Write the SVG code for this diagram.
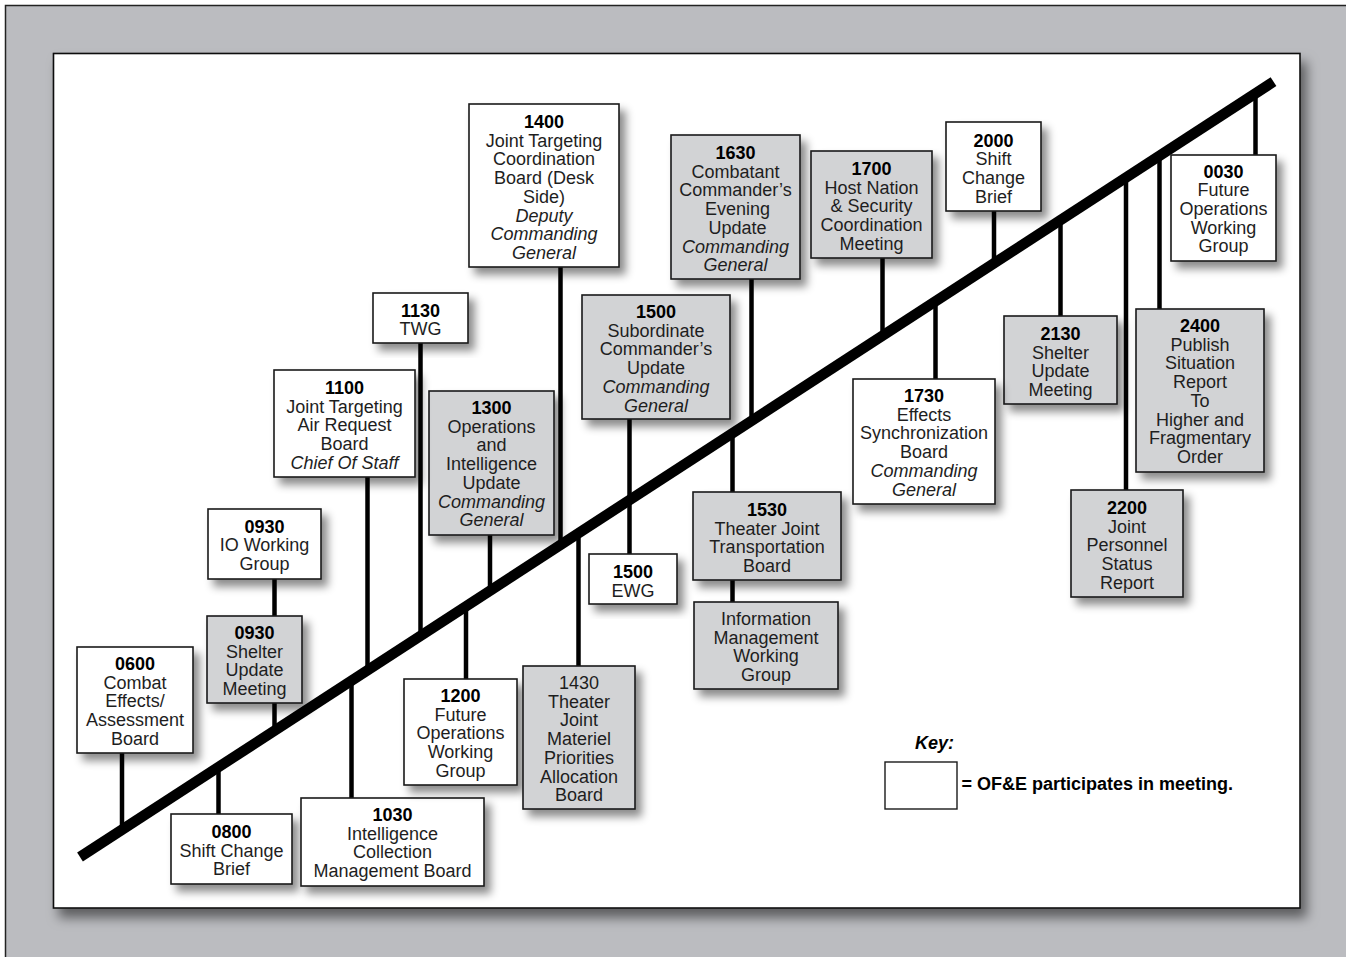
<svg xmlns="http://www.w3.org/2000/svg" width="1346" height="957" viewBox="0 0 1346 957">
<defs>
<filter id="sh" x="-20%" y="-20%" width="150%" height="150%"><feDropShadow dx="6" dy="7" stdDeviation="4" flood-color="#000" flood-opacity="0.45"/></filter>
<filter id="psh" x="-5%" y="-5%" width="112%" height="115%"><feDropShadow dx="6" dy="9" stdDeviation="6" flood-color="#000" flood-opacity="0.5"/></filter>
<style>
text{font-family:"Liberation Sans",Arial,Helvetica,sans-serif;font-size:18px;fill:#1e1e1e;text-anchor:middle}
.b{font-weight:bold;fill:#000}
.i{font-style:italic}
.w{fill:#fff;stroke:#1a1a1a;stroke-width:1.6;filter:url(#sh)}
.g{fill:#d2d3d5;stroke:#1a1a1a;stroke-width:1.6;filter:url(#sh)}
.c{stroke:#000;stroke-width:4.5;fill:none}
</style>
</defs>
<rect x="5.5" y="5.5" width="1400" height="1000" fill="#bbbcc0" stroke="#222" stroke-width="1.5"/>
<rect x="53.5" y="53.5" width="1246.5" height="854.5" fill="#fff" stroke="#111" stroke-width="1.6" filter="url(#psh)"/>
<g id="connectors">
<line class="c" x1="122" y1="753" x2="122" y2="830"/>
<line class="c" x1="274.5" y1="579" x2="274.5" y2="616"/>
<line class="c" x1="274.5" y1="703" x2="274.5" y2="731"/>
<line class="c" x1="218.5" y1="767" x2="218.5" y2="814"/>
<line class="c" x1="351.5" y1="680" x2="351.5" y2="798"/>
<line class="c" x1="367.5" y1="477" x2="367.5" y2="670"/>
<line class="c" x1="420.5" y1="343" x2="420.5" y2="636"/>
<line class="c" x1="490" y1="535" x2="490" y2="590"/>
<line class="c" x1="466" y1="606" x2="466" y2="679"/>
<line class="c" x1="560.5" y1="267" x2="560.5" y2="545"/>
<line class="c" x1="578.5" y1="533" x2="578.5" y2="666"/>
<line class="c" x1="629.5" y1="419" x2="629.5" y2="554"/>
<line class="c" x1="751.5" y1="279" x2="751.5" y2="421"/>
<line class="c" x1="732.5" y1="433" x2="732.5" y2="492"/>
<line class="c" x1="732.5" y1="580" x2="732.5" y2="602"/>
<line class="c" x1="882.5" y1="258" x2="882.5" y2="336"/>
<line class="c" x1="935.5" y1="301" x2="935.5" y2="379"/>
<line class="c" x1="994" y1="211" x2="994" y2="263"/>
<line class="c" x1="1060.5" y1="220" x2="1060.5" y2="316"/>
<line class="c" x1="1126" y1="177" x2="1126" y2="490"/>
<line class="c" x1="1159.5" y1="156" x2="1159.5" y2="309"/>
<line class="c" x1="1255.5" y1="93" x2="1255.5" y2="155"/>
<line x1="80" y1="857" x2="1273.5" y2="81.7" stroke="#000" stroke-width="10.5"/>
</g>
<g id="n0600"><rect class="w" x="77" y="647" width="116" height="106"/>
<text><tspan class="b" x="135" y="670">0600</tspan><tspan x="135" dy="18.7">Combat</tspan><tspan x="135" dy="18.7">Effects/</tspan><tspan x="135" dy="18.7">Assessment</tspan><tspan x="135" dy="18.7">Board</tspan></text></g>
<g id="n0930io"><rect class="w" x="208" y="509" width="113" height="70"/>
<text><tspan class="b" x="264.5" y="532.5">0930</tspan><tspan x="264.5" dy="18.7">IO Working</tspan><tspan x="264.5" dy="18.7">Group</tspan></text></g>
<g id="n0930sh"><rect class="g" x="207" y="616" width="95" height="87"/>
<text><tspan class="b" x="254.5" y="639">0930</tspan><tspan x="254.5" dy="18.7">Shelter</tspan><tspan x="254.5" dy="18.7">Update</tspan><tspan x="254.5" dy="18.7">Meeting</tspan></text></g>
<g id="n0800"><rect class="w" x="171" y="814" width="121" height="70"/>
<text><tspan class="b" x="231.5" y="838">0800</tspan><tspan x="231.5" dy="18.7">Shift Change</tspan><tspan x="231.5" dy="18.7">Brief</tspan></text></g>
<g id="n1030"><rect class="w" x="301" y="798" width="183" height="88"/>
<text><tspan class="b" x="392.5" y="821">1030</tspan><tspan x="392.5" dy="18.7">Intelligence</tspan><tspan x="392.5" dy="18.7">Collection</tspan><tspan x="392.5" dy="18.7">Management Board</tspan></text></g>
<g id="n1200"><rect class="w" x="404" y="679" width="113" height="106"/>
<text><tspan class="b" x="460.5" y="702">1200</tspan><tspan x="460.5" dy="18.7">Future</tspan><tspan x="460.5" dy="18.7">Operations</tspan><tspan x="460.5" dy="18.7">Working</tspan><tspan x="460.5" dy="18.7">Group</tspan></text></g>
<g id="n1430"><rect class="g" x="523" y="666" width="112" height="143"/>
<text><tspan x="579" y="689">1430</tspan><tspan x="579" dy="18.7">Theater</tspan><tspan x="579" dy="18.7">Joint</tspan><tspan x="579" dy="18.7">Materiel</tspan><tspan x="579" dy="18.7">Priorities</tspan><tspan x="579" dy="18.7">Allocation</tspan><tspan x="579" dy="18.7">Board</tspan></text></g>
<g id="n1500ewg"><rect class="w" x="589" y="554" width="88" height="50"/>
<text><tspan class="b" x="633" y="578">1500</tspan><tspan x="633" dy="18.7">EWG</tspan></text></g>
<g id="n1530"><rect class="g" x="693" y="492" width="148" height="88"/>
<text><tspan class="b" x="767" y="516">1530</tspan><tspan x="767" dy="18.7">Theater Joint</tspan><tspan x="767" dy="18.7">Transportation</tspan><tspan x="767" dy="18.7">Board</tspan></text></g>
<g id="ninfo"><rect class="g" x="694" y="602" width="144" height="87"/>
<text><tspan x="766" y="625">Information</tspan><tspan x="766" dy="18.7">Management</tspan><tspan x="766" dy="18.7">Working</tspan><tspan x="766" dy="18.7">Group</tspan></text></g>
<g id="n1300"><rect class="g" x="429" y="391" width="125" height="144"/>
<text><tspan class="b" x="491.5" y="414">1300</tspan><tspan x="491.5" dy="18.7">Operations</tspan><tspan x="491.5" dy="18.7">and</tspan><tspan x="491.5" dy="18.7">Intelligence</tspan><tspan x="491.5" dy="18.7">Update</tspan><tspan class="i" x="491.5" dy="18.7">Commanding</tspan><tspan class="i" x="491.5" dy="18.7">General</tspan></text></g>
<g id="n1100"><rect class="w" x="274" y="370" width="141" height="107"/>
<text><tspan class="b" x="344.5" y="394">1100</tspan><tspan x="344.5" dy="18.7">Joint Targeting</tspan><tspan x="344.5" dy="18.7">Air Request</tspan><tspan x="344.5" dy="18.7">Board</tspan><tspan class="i" x="344.5" dy="18.7">Chief Of Staff</tspan></text></g>
<g id="n1130"><rect class="w" x="373" y="293" width="95" height="50"/>
<text><tspan class="b" x="420.5" y="316.5">1130</tspan><tspan x="420.5" dy="18.7">TWG</tspan></text></g>
<g id="n1400"><rect class="w" x="469" y="104" width="150" height="163"/>
<text><tspan class="b" x="544" y="128">1400</tspan><tspan x="544" dy="18.7">Joint Targeting</tspan><tspan x="544" dy="18.7">Coordination</tspan><tspan x="544" dy="18.7">Board (Desk</tspan><tspan x="544" dy="18.7">Side)</tspan><tspan class="i" x="544" dy="18.7">Deputy</tspan><tspan class="i" x="544" dy="18.7">Commanding</tspan><tspan class="i" x="544" dy="18.7">General</tspan></text></g>
<g id="n1500sub"><rect class="g" x="582" y="295" width="148" height="124"/>
<text><tspan class="b" x="656" y="318">1500</tspan><tspan x="656" dy="18.7">Subordinate</tspan><tspan x="656" dy="18.7">Commander’s</tspan><tspan x="656" dy="18.7">Update</tspan><tspan class="i" x="656" dy="18.7">Commanding</tspan><tspan class="i" x="656" dy="18.7">General</tspan></text></g>
<g id="n1630"><rect class="g" x="671" y="135" width="129" height="144"/>
<text><tspan class="b" x="735.5" y="159">1630</tspan><tspan x="735.5" dy="18.7">Combatant</tspan><tspan x="735.5" dy="18.7">Commander’s</tspan><tspan x="737.5" dy="18.7">Evening</tspan><tspan x="737.5" dy="18.7">Update</tspan><tspan class="i" x="735.5" dy="18.7">Commanding</tspan><tspan class="i" x="735.5" dy="18.7">General</tspan></text></g>
<g id="n1700"><rect class="g" x="811" y="151" width="121" height="107"/>
<text><tspan class="b" x="871.5" y="175">1700</tspan><tspan x="871.5" dy="18.7">Host Nation</tspan><tspan x="871.5" dy="18.7">&amp; Security</tspan><tspan x="871.5" dy="18.7">Coordination</tspan><tspan x="871.5" dy="18.7">Meeting</tspan></text></g>
<g id="n2000"><rect class="w" x="946" y="122" width="95" height="89"/>
<text><tspan class="b" x="993.5" y="146.5">2000</tspan><tspan x="993.5" dy="18.7">Shift</tspan><tspan x="993.5" dy="18.7">Change</tspan><tspan x="993.5" dy="18.7">Brief</tspan></text></g>
<g id="n0030"><rect class="w" x="1171" y="155" width="105" height="106"/>
<text><tspan class="b" x="1223.5" y="177.5">0030</tspan><tspan x="1223.5" dy="18.7">Future</tspan><tspan x="1223.5" dy="18.7">Operations</tspan><tspan x="1223.5" dy="18.7">Working</tspan><tspan x="1223.5" dy="18.7">Group</tspan></text></g>
<g id="n2130"><rect class="g" x="1004" y="316" width="113" height="88"/>
<text><tspan class="b" x="1060.5" y="340">2130</tspan><tspan x="1060.5" dy="18.7">Shelter</tspan><tspan x="1060.5" dy="18.7">Update</tspan><tspan x="1060.5" dy="18.7">Meeting</tspan></text></g>
<g id="n1730"><rect class="w" x="853" y="379" width="142" height="125"/>
<text><tspan class="b" x="924" y="402">1730</tspan><tspan x="924" dy="18.7">Effects</tspan><tspan x="924" dy="18.7">Synchronization</tspan><tspan x="924" dy="18.7">Board</tspan><tspan class="i" x="924" dy="18.7">Commanding</tspan><tspan class="i" x="924" dy="18.7">General</tspan></text></g>
<g id="n2400"><rect class="g" x="1136" y="309" width="128" height="163"/>
<text><tspan class="b" x="1200" y="332">2400</tspan><tspan x="1200" dy="18.7">Publish</tspan><tspan x="1200" dy="18.7">Situation</tspan><tspan x="1200" dy="18.7">Report</tspan><tspan x="1200" dy="18.7">To</tspan><tspan x="1200" dy="18.7">Higher and</tspan><tspan x="1200" dy="18.7">Fragmentary</tspan><tspan x="1200" dy="18.7">Order</tspan></text></g>
<g id="n2200"><rect class="g" x="1071" y="490" width="112" height="107"/>
<text><tspan class="b" x="1127" y="514">2200</tspan><tspan x="1127" dy="18.7">Joint</tspan><tspan x="1127" dy="18.7">Personnel</tspan><tspan x="1127" dy="18.7">Status</tspan><tspan x="1127" dy="18.7">Report</tspan></text></g>
<g id="key">
<text class="b i" x="915" y="749" style="text-anchor:start">Key:</text>
<rect x="885" y="762" width="72" height="47" fill="#fff" stroke="#1a1a1a" stroke-width="1.4"/>
<text class="b" x="961.5" y="790" style="text-anchor:start">= OF&amp;E participates in meeting.</text>
</g>
</svg>
